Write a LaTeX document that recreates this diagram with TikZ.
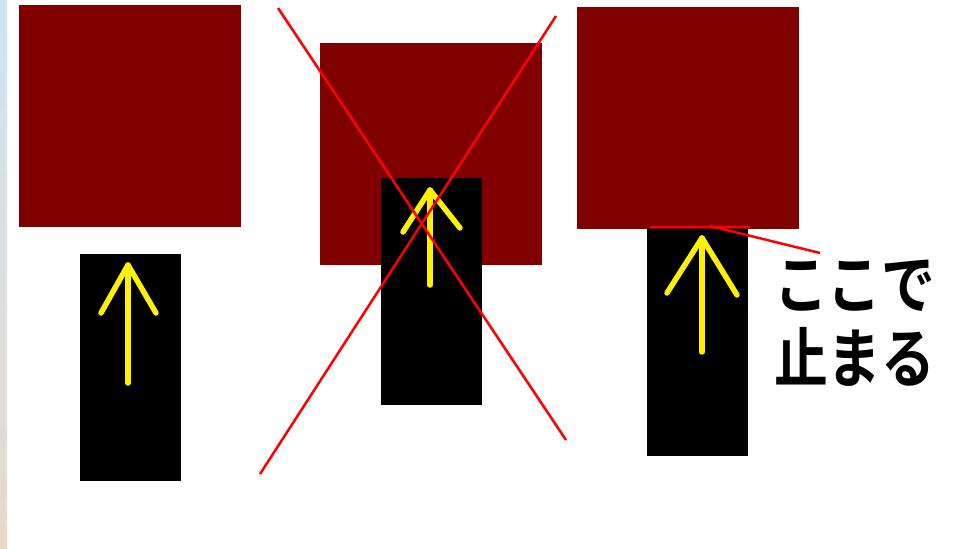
\documentclass[tikz,border=0pt]{standalone}
\usepackage{fontspec}
\newfontfamily\jpfont{Noto Sans CJK JP Bold}
\definecolor{maroon}{HTML}{800000}
\definecolor{stripblue}{HTML}{CDE4F5}
\definecolor{stripbeige}{HTML}{E9D9CA}
\newcommand{\tallword}[1]{\scalebox{0.96}[1.16]{#1}}
\tikzset{
  redbox/.style={fill=maroon, draw=none, inner sep=0pt, minimum width=222pt, minimum height=222pt},
  blackbar/.style={fill=black, draw=none, inner sep=0pt, minimum width=101pt, minimum height=227pt},
  yarrow/.style={yellow, line width=5.5pt, line cap=round, line join=round},
  cross/.style={red, line width=2.5pt},
  marker/.style={red, line width=2.5pt},
}
\begin{document}
\begin{tikzpicture}[x=1pt,y=-1pt]
    % Frame
    \useasboundingbox (0,0) rectangle (959,549);
    \fill[white] (0,0) rectangle (959,549);
    \shade[top color=stripblue, bottom color=stripbeige] (0,0) rectangle (7,549);

    % Case 1
    \node[redbox] (top1) at (130,116) {};
    \node[blackbar] (bar1) at (130,367.5) {};
    \coordinate (tip1) at (128,265);
    \draw[yarrow] (128,383) -- (tip1);
    \draw[yarrow] (101,313) -- (tip1) -- (156,313);

    % Case 2 (overlap, crossed out)
    \node[redbox] (top2) at (431,154) {};
    \node[blackbar] (bar2) at (431,291.5) {};
    \coordinate (tip2) at (430,190);
    \draw[yarrow] (430,285) -- (tip2);
    \draw[yarrow] (403,232) -- (tip2) -- (460,228);
    \draw[cross] (278,8) -- (566,440);
    \draw[cross] (556,16) -- (260,474);

    % Case 3 (stops here)
    \node[redbox] (top3) at (688,117.5) {};
    \node[blackbar] (bar3) at (697.5,342) {};
    \coordinate (tip3) at (702,238);
    \draw[yarrow] (702,352) -- (tip3);
    \draw[yarrow] (667,293) -- (tip3) -- (737,295);

    % Label
    \node[anchor=north west, inner sep=0pt, align=left, font=\jpfont\fontsize{56}{74}\selectfont] (label) at (774,260) {\tallword{ここで}\\\tallword{止まる}};
    \coordinate (touch) at (710,226);
    \draw[marker] (650,227) -- (750,227);
    \draw[marker] (touch) -- (820,253);
\end{tikzpicture}
\end{document}
